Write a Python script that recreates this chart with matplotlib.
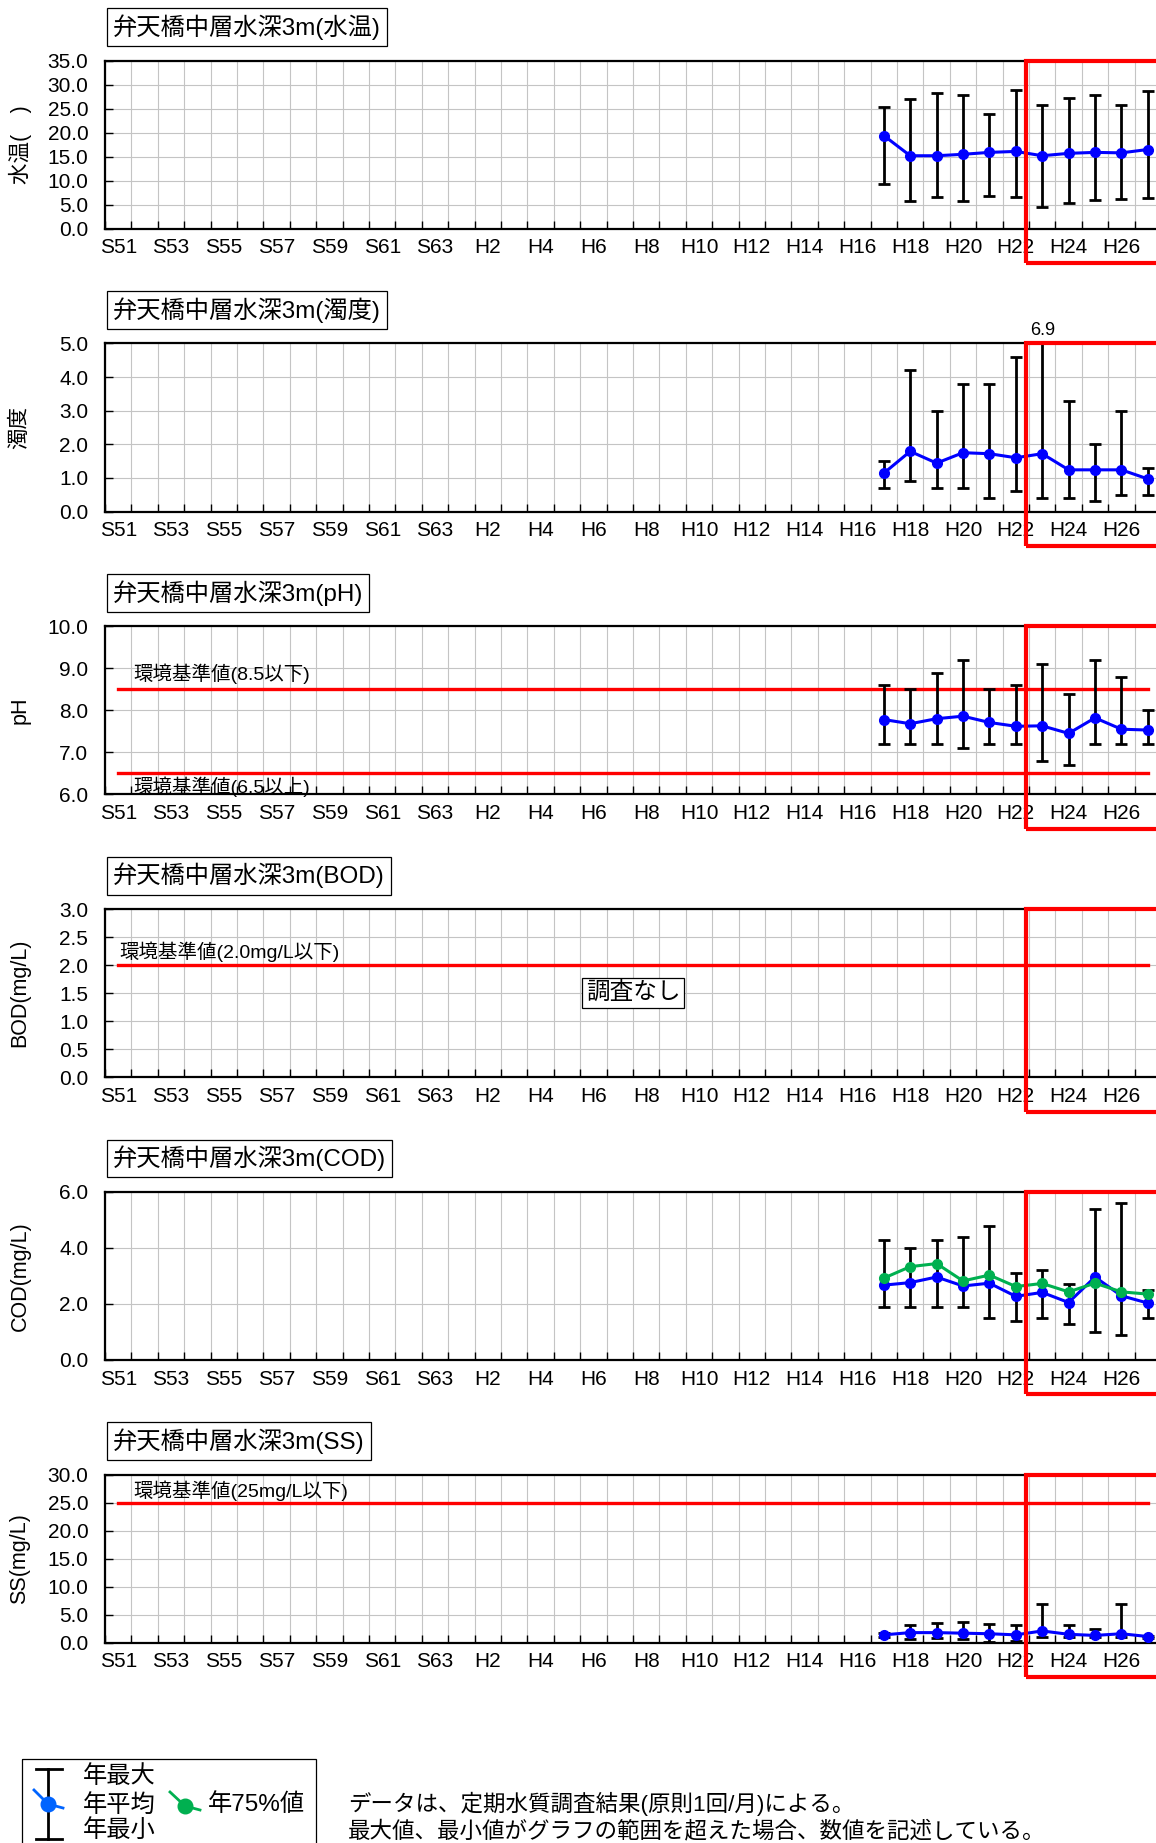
import matplotlib
matplotlib.use("Agg")
import matplotlib.pyplot as plt
import matplotlib.transforms as mtrans
from matplotlib.patches import Rectangle
from matplotlib.ticker import FixedLocator, MultipleLocator, FormatStrFormatter

plt.rcParams['font.family'] = ['Liberation Sans', 'Noto Sans CJK JP']

# ── Dados ────────────────────────────────────────────────────────────────

anos = ["S51", "S52", "S53", "S54", "S55", "S56", "S57", "S58", "S59", "S60",
        "S61", "S62", "S63", "H1", "H2", "H3", "H4", "H5", "H6", "H7", "H8",
        "H9", "H10", "H11", "H12", "H13", "H14", "H15", "H16", "H17", "H18",
        "H19", "H20", "H21", "H22", "H23", "H24", "H25", "H26", "H27"]

anos_dados = ["H17", "H18", "H19", "H20", "H21", "H22", "H23", "H24", "H25", "H26", "H27"]

temp_media = [19.4, 15.2, 15.2, 15.5, 15.9, 16.1, 15.2, 15.7, 15.9, 15.8, 16.5]
temp_max   = [25.4, 27.1, 28.3, 27.9, 23.8, 29.0, 25.8, 27.3, 27.8, 25.8, 28.7]
temp_min   = [9.3, 5.7, 6.7, 5.7, 6.9, 6.6, 4.6, 5.4, 6.0, 6.2, 6.3]

turb_media = [1.14, 1.79, 1.44, 1.75, 1.72, 1.60, 1.72, 1.24, 1.24, 1.24, 0.97]
turb_max   = [1.5, 4.2, 3.0, 3.8, 3.8, 4.6, 6.9, 3.3, 2.0, 3.0, 1.3]
turb_min   = [0.7, 0.9, 0.7, 0.7, 0.4, 0.6, 0.4, 0.4, 0.3, 0.5, 0.5]

ph_media = [7.78, 7.68, 7.80, 7.86, 7.71, 7.62, 7.63, 7.45, 7.82, 7.55, 7.53]
ph_max   = [8.6, 8.5, 8.9, 9.2, 8.5, 8.6, 9.1, 8.4, 9.2, 8.8, 8.0]
ph_min   = [7.2, 7.2, 7.2, 7.1, 7.2, 7.2, 6.8, 6.7, 7.2, 7.2, 7.2]

cod_media = [2.67, 2.76, 2.96, 2.64, 2.74, 2.27, 2.41, 2.05, 2.96, 2.29, 2.03]
cod_75    = [2.92, 3.33, 3.44, 2.82, 3.03, 2.62, 2.73, 2.43, 2.74, 2.43, 2.35]
cod_max   = [4.3, 4.0, 4.3, 4.4, 4.8, 3.1, 3.2, 2.7, 5.4, 5.6, 2.5]
cod_min   = [1.9, 1.9, 1.9, 1.9, 1.5, 1.4, 1.5, 1.3, 1.0, 0.9, 1.5]

ss_media = [1.4, 1.8, 1.8, 1.7, 1.6, 1.4, 2.1, 1.5, 1.3, 1.6, 1.1]
ss_max   = [1.8, 3.1, 3.5, 3.7, 3.3, 3.1, 6.9, 3.1, 2.4, 6.9, 1.2]
ss_min   = [1.0, 0.6, 0.9, 0.7, 0.2, 0.25, 1.0, 1.1, 1.0, 1.0, 0.9]

# 環境基準値
ph_sup = 8.5
ph_inf = 6.5
bod_lim = 2.0
ss_lim = 25

W, H = 1156, 1843
AZUL = "#0000ff"
VERDE = "#00b050"
VERMELHO = "#ff0000"
GRADE = "#c4c4c4"


def eixo(i):
    topo = 60.7 + i * 282.8
    return fig.add_axes([105 / W, 1 - (topo + 168) / H, 1056 / W, 168 / H])


def base(ax, titulo, ylabel, ymin, ymax, passo):
    ax.set_xlim(-0.5, len(anos) - 0.5)
    ax.set_ylim(ymin, ymax)
    ax.xaxis.set_major_locator(FixedLocator(range(0, len(anos), 2)))
    ax.set_xticklabels(anos[::2])
    ax.xaxis.set_minor_locator(FixedLocator([k - 0.5 for k in range(len(anos) + 1)]))
    ax.yaxis.set_major_locator(MultipleLocator(passo))
    ax.yaxis.set_major_formatter(FormatStrFormatter("%.1f"))
    ax.tick_params(axis="x", which="major", length=0, pad=7, labelsize=15)
    ax.tick_params(axis="x", which="minor", direction="in", length=6, width=1)
    ax.tick_params(axis="y", direction="in", length=6, width=1, pad=12, labelsize=15)
    ax.grid(True, which="minor", axis="x", color=GRADE, lw=0.8)
    ax.grid(True, which="major", axis="y", color=GRADE, lw=0.8)
    ax.set_axisbelow(True)
    for s in ax.spines.values():
        s.set_linewidth(1.6)
    ax.set_ylabel(ylabel, fontsize=15.5)
    ax.yaxis.label.set_va("center")
    ax.yaxis.set_label_coords(-0.0805, 0.5)
    ax.text(0.0076, 1.199, titulo, transform=ax.transAxes, fontsize=17.5,
            va="center", ha="left",
            bbox=dict(boxstyle="square,pad=0.25", fc="white", ec="black", lw=0.9))


def serie(ax, media, vmax, vmin):
    x = [anos.index(a) for a in anos_dados]
    err = [[m - lo for m, lo in zip(media, vmin)], [hi - m for m, hi in zip(media, vmax)]]
    ax.errorbar(x, media, yerr=err, fmt="none", ecolor="black",
                elinewidth=2, capsize=4, capthick=2, zorder=3)
    ax.plot(x, media, color=AZUL, marker="o", ms=7, lw=2.2, zorder=4)
    # valores fora da escala
    ymax = ax.get_ylim()[1]
    trans = mtrans.blended_transform_factory(ax.transData, ax.transAxes)
    for xi, v in zip(x, vmax):
        if v > ymax:
            ax.annotate(f"{v:.1f}", xy=(xi, 1), xycoords=trans, xytext=(0, 9),
                        textcoords="offset points", ha="center", va="center", fontsize=13)


def limite(ax, valor):
    ax.plot(range(len(anos)), [valor] * len(anos), color=VERMELHO, lw=2.4, zorder=2)


def caixa(ax):
    trans = mtrans.blended_transform_factory(ax.transData, ax.transAxes)
    ax.add_patch(Rectangle((34.37, -0.205), 10, 1.205, transform=trans, fill=False,
                           ec=VERMELHO, lw=3, clip_on=False, zorder=10))


fig = plt.figure(figsize=(W / 100, H / 100), dpi=100)

# 水温
ax = eixo(0)
base(ax, "弁天橋中層水深3m(水温)", "水温(　)", 0, 35, 5)
serie(ax, temp_media, temp_max, temp_min)
caixa(ax)

# 濁度
ax = eixo(1)
base(ax, "弁天橋中層水深3m(濁度)", "濁度", 0, 5, 1)
serie(ax, turb_media, turb_max, turb_min)
caixa(ax)

# pH
ax = eixo(2)
base(ax, "弁天橋中層水深3m(pH)", "pH", 6, 10, 1)
limite(ax, ph_sup)
limite(ax, ph_inf)
ax.text(0.58, 8.71, "環境基準値(8.5以下)", fontsize=14, va="baseline")
ax.text(0.58, 6.04, "環境基準値(6.5以上)", fontsize=14, va="baseline")
serie(ax, ph_media, ph_max, ph_min)
caixa(ax)

# BOD
ax = eixo(3)
base(ax, "弁天橋中層水深3m(BOD)", "BOD(mg/L)", 0, 3, 0.5)
limite(ax, bod_lim)
ax.text(0.04, 2.13, "環境基準値(2.0mg/L以下)", fontsize=14, va="baseline")
ax.text(19.5, 1.5, "調査なし", fontsize=17, ha="center", va="center",
        bbox=dict(boxstyle="square,pad=0.15", fc="white", ec="black", lw=0.9))
caixa(ax)

# COD
ax = eixo(4)
base(ax, "弁天橋中層水深3m(COD)", "COD(mg/L)", 0, 6, 2)
serie(ax, cod_media, cod_max, cod_min)
x75 = [anos.index(a) for a in anos_dados]
ax.plot(x75, cod_75, color=VERDE, marker="o", ms=7, lw=2.2, zorder=4)
caixa(ax)

# SS
ax = eixo(5)
base(ax, "弁天橋中層水深3m(SS)", "SS(mg/L)", 0, 30, 5)
limite(ax, ss_lim)
ax.text(0.57, 26.0, "環境基準値(25mg/L以下)", fontsize=14, va="baseline")
serie(ax, ss_media, ss_max, ss_min)
caixa(ax)

# ── Legenda e notas ─────────────────────────────────────────────────────

leg = fig.add_axes([0, 0, 1, 1], zorder=20)
leg.set_xlim(0, W)
leg.set_ylim(H, 0)
leg.axis("off")
leg.patch.set_alpha(0)

leg.add_patch(Rectangle((22, 1759), 294, 120, fill=False, ec="black", lw=0.9, clip_on=False))
leg.plot([48, 48], [1769, 1839], color="black", lw=2)
leg.plot([36, 62], [1769, 1769], color="black", lw=2)
leg.plot([36, 62], [1839, 1839], color="black", lw=2)
leg.plot([34, 48, 63], [1790, 1804, 1808], color="#0064ff", lw=2)
leg.plot([48], [1804], color="#0064ff", marker="o", ms=10.5)
leg.plot([170, 185, 200], [1792, 1806, 1810], color=VERDE, lw=2)
leg.plot([185], [1806], color=VERDE, marker="o", ms=10.5)
leg.text(83, 1777, "年最大", fontsize=17.5, va="center")
leg.text(83, 1805, "年平均", fontsize=17.5, va="center")
leg.text(83, 1831, "年最小", fontsize=17.5, va="center")
leg.text(208, 1805, "年75%値", fontsize=17.5, va="center")

leg.text(348, 1804, "データは、定期水質調査結果(原則1回/月)による。", fontsize=16.2, va="center")
leg.text(348, 1831.5, "最大値、最小値がグラフの範囲を超えた場合、数値を記述している。",
         fontsize=16.2, va="center")

plt.savefig("out.png", dpi=100)
